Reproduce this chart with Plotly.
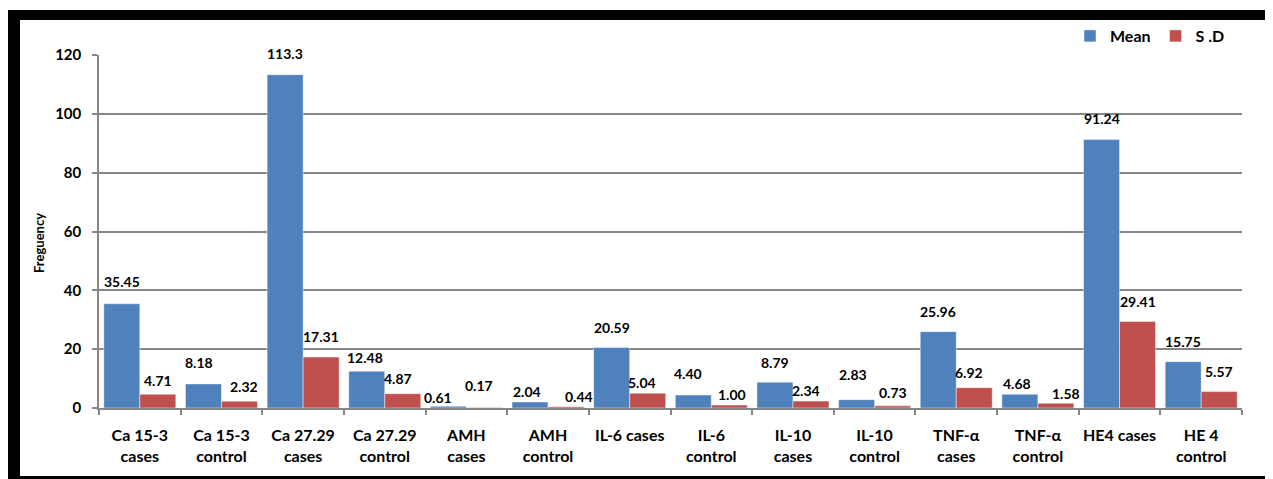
import plotly.graph_objects as go

categories = ["Ca 15-3<br>cases", "Ca 15-3<br>control", "Ca 27.29<br>cases", "Ca 27.29<br>control",
              "AMH<br>cases", "AMH<br>control", "IL-6 cases", "IL-6<br>control", "IL-10<br>cases",
              "IL-10<br>control", "TNF-α<br>cases", "TNF-α<br>control", "HE4 cases", "HE 4<br>control"]
mean_values = [35.45, 8.18, 113.3, 12.48, 0.61, 2.04, 20.59, 4.40, 8.79, 2.83, 25.96, 4.68, 91.24, 15.75]
sd_values = [4.71, 2.32, 17.31, 4.87, 0.17, 0.44, 5.04, 1.00, 2.34, 0.73, 6.92, 1.58, 29.41, 5.57]
mean_labels = ["35.45", "8.18", "113.3", "12.48", "0.61", "2.04", "20.59", "4.40", "8.79", "2.83", "25.96", "4.68", "91.24", "15.75"]
sd_labels = ["4.71", "2.32", "17.31", "4.87", "0.17", "0.44", "5.04", "1.00", "2.34", "0.73", "6.92", "1.58", "29.41", "5.57"]
y_ticks = [0, 20, 40, 60, 80, 100, 120]

# label offsets (pixels) — styling only
mean_dx = [0, -4, 0, -2, -10, -3, 0, -5, 0, -4, 0, -3, 0, 0]
mean_dy = [22, 21, 21, 14, 9, 11, 20, 22, 20, 25, 20, 11, 21, 20]
sd_dx = [0, 5, 0, -5, -5, 13, -6, 3, -5, 0, -5, 10, 0, 0]
sd_dy = [14, 15, 21, 15, 22, 10, 11, 11, 11, 13, 15, 10, 20, 20]

BLUE = "#4F81BD"
RED = "#C0504D"
FONT = "Lato"
GRAY = "#868686"

# page offset (browser body margin)
O = 8
W, H = 1273 - O, 479 - O
# plot area in screen pixels
L, R, T, B = 99 - O, 1242 - O, 55 - O, 408 - O
pw, ph = R - L, B - T
grp = pw / len(categories)
bw = 36

fig = go.Figure()
fig.add_trace(go.Bar(name="Mean", x=categories, y=mean_values,
                     marker=dict(color=BLUE, line=dict(color="rgba(255,255,255,0.45)", width=1))))
fig.add_trace(go.Bar(name="S .D", x=categories, y=sd_values,
                     marker=dict(color=RED, line=dict(color="rgba(255,255,255,0.45)", width=1))))

annotations = []
for i, c in enumerate(categories):
    annotations.append(dict(x=c, y=mean_values[i], text=mean_labels[i], showarrow=False,
                            xshift=-bw / 2 + mean_dx[i], yshift=mean_dy[i], yanchor="middle",
                            font=dict(family=FONT, size=14, color="black", weight="bold")))
    annotations.append(dict(x=c, y=sd_values[i], text=sd_labels[i], showarrow=False,
                            xshift=bw / 2 + sd_dx[i], yshift=sd_dy[i], yanchor="middle",
                            font=dict(family=FONT, size=14, color="black", weight="bold")))


def px_x(p):
    return (p - O - L) / pw


def px_y(p):
    return (B - (p - O)) / ph


# y-axis title
annotations.append(dict(x=px_x(39), y=px_y(243), xref="paper", yref="paper", text="Freguency",
                        textangle=-90, showarrow=False, xanchor="center", yanchor="middle",
                        font=dict(family=FONT, size=13, color="black", weight="bold")))

shapes = [
    dict(type="rect", xref="paper", yref="paper", x0=px_x(8), x1=px_x(20), y0=px_y(479), y1=px_y(10),
         fillcolor="black", line=dict(width=0), layer="above"),
    dict(type="rect", xref="paper", yref="paper", x0=px_x(8), x1=px_x(1273), y0=px_y(20), y1=px_y(10),
         fillcolor="black", line=dict(width=0), layer="above"),
    dict(type="rect", xref="paper", yref="paper", x0=px_x(8), x1=px_x(1273), y0=px_y(479), y1=px_y(476),
         fillcolor="black", line=dict(width=0), layer="above"),
    dict(type="rect", xref="paper", yref="paper", x0=px_x(1270), x1=px_x(1273), y0=px_y(479), y1=px_y(10),
         fillcolor="black", line=dict(width=0), layer="above"),
]

fig.update_layout(
    width=W, height=H,
    margin=dict(l=L, r=W - R, t=T, b=H - B, autoexpand=False),
    paper_bgcolor="white", plot_bgcolor="white",
    barmode="group", bargap=(grp - 2 * bw) / grp, bargroupgap=0,
    font=dict(family=FONT, size=15, color="black"),
    showlegend=True,
    legend=dict(orientation="h", x=px_x(1070), y=px_y(19), xanchor="left", yanchor="top",
                font=dict(family=FONT, size=16, color="black", weight="bold"),
                bgcolor="rgba(0,0,0,0)", itemwidth=30, tracegroupgap=0),
    annotations=annotations,
    shapes=shapes,
    xaxis=dict(
        tickson="boundaries", ticks="outside", ticklen=5, tickcolor=GRAY, tickwidth=1.5,
        showline=True, linecolor=GRAY, linewidth=1.5, showgrid=False, tickangle=0,
        tickfont=dict(family=FONT, size=16, color="black", weight="bold"),
        ticklabelstandoff=12,
        automargin=False,
    ),
    yaxis=dict(
        range=[0, 120], tickvals=y_ticks, ticks="outside", ticklen=5, tickcolor=GRAY, tickwidth=1.5,
        showline=True, linecolor=GRAY, linewidth=1.5,
        showgrid=True, gridcolor=GRAY, gridwidth=1.5, zeroline=False,
        tickfont=dict(family=FONT, size=15, color="black", weight="bold"),
        ticklabelstandoff=8,
        automargin=False,
    ),
)

fig.write_html("out.html")
